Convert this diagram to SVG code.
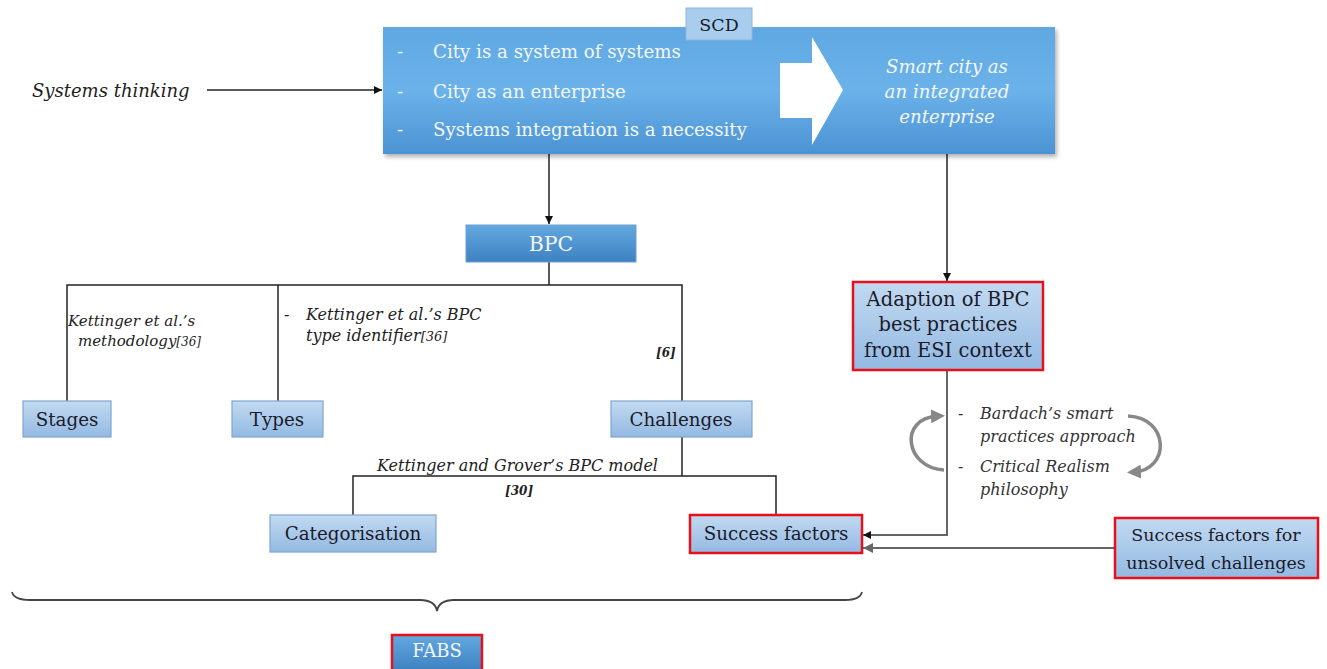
<svg xmlns="http://www.w3.org/2000/svg" width="1327" height="669" viewBox="0 0 1327 669">
<defs>
<linearGradient id="gBig" x1="0" y1="0" x2="0" y2="1"><stop offset="0" stop-color="#5fa8e2"/><stop offset="0.5" stop-color="#6bb2ea"/><stop offset="1" stop-color="#4b93d3"/></linearGradient>
<linearGradient id="gDark" x1="0" y1="0" x2="0" y2="1"><stop offset="0" stop-color="#64a8e0"/><stop offset="1" stop-color="#3e81c2"/></linearGradient>
<linearGradient id="gLight" x1="0" y1="0" x2="0" y2="1"><stop offset="0" stop-color="#c2daf1"/><stop offset="1" stop-color="#93b9e2"/></linearGradient>
<filter id="sh" x="-5%" y="-10%" width="115%" height="130%"><feDropShadow dx="2" dy="3" stdDeviation="2" flood-color="#000" flood-opacity="0.3"/></filter>
<marker id="ah" viewBox="0 0 10 10" refX="10" refY="5" markerWidth="8" markerHeight="8" orient="auto" markerUnits="userSpaceOnUse"><path d="M0,0 L10,5 L0,10 z" fill="#111"/></marker>
<marker id="ahg" viewBox="0 0 10 10" refX="10" refY="5" markerWidth="10" markerHeight="10" orient="auto" markerUnits="userSpaceOnUse"><path d="M0,0 L10,5 L0,10 z" fill="#666"/></marker>
<marker id="ahc" viewBox="0 0 10 10" refX="5" refY="5" markerWidth="14" markerHeight="14" orient="auto" markerUnits="userSpaceOnUse"><path d="M0,0 L10,5 L0,10 z" fill="#888"/></marker>
</defs>
<style>
text{font-family:"DejaVu Serif","Liberation Serif",serif}
.big{fill:url(#gBig);filter:url(#sh)}
.dark{fill:url(#gDark);stroke:#6f9fcf;stroke-width:1}
.light{fill:url(#gLight);stroke:#7fa6cf;stroke-width:1.2}
.red{stroke:#e8101a;stroke-width:2.5}
.t{font-size:18.3px;fill:#1b1b2b}
.tw{font-size:18.2px;fill:#f4f7fb}
.it{font-style:italic;font-size:16px;fill:#222}
.itw{font-style:italic;font-size:18.2px;fill:#f4f7fb}
.ln{fill:none;stroke:#222;stroke-width:1.5}
.lg{fill:none;stroke:#666;stroke-width:2}
.cv{fill:none;stroke:#888;stroke-width:3.5}
</style>

<g id="connectors">
<line class="ln" x1="207" y1="90" x2="382" y2="90" marker-end="url(#ah)"/>
<line class="ln" x1="549" y1="154" x2="549" y2="224" marker-end="url(#ah)"/>
<line class="ln" x1="947" y1="154" x2="947" y2="281" marker-end="url(#ah)"/>
<line class="ln" x1="549" y1="262" x2="549" y2="285"/>
<polyline class="ln" points="67,401 67,285 682,285 682,401"/>
<line class="ln" x1="278" y1="285" x2="278" y2="401"/>
<line class="ln" x1="682" y1="437" x2="682" y2="476"/>
<polyline class="ln" points="353,515 353,476 776,476 776,515"/>
<polyline class="lg" points="947,370 947,535 863,535" marker-end="url(#ah)"/>
<line class="lg" x1="1115" y1="548" x2="863" y2="548" marker-end="url(#ahg)"/>
<path class="cv" d="M944,470 C905,468 898,418 938,416" marker-end="url(#ahc)"/>
<path class="cv" d="M1128,416 C1170,418 1170,470 1134,472" marker-end="url(#ahc)"/>
<path fill="none" stroke="#444" stroke-width="1.8" d="M12,592 Q14,600 30,600 L420,600 Q435,600 437,611 Q439,600 454,600 L845,600 Q860,600 862,592"/>
</g>

<g id="systems-thinking">
<text class="it" x="32" y="97" style="font-size:18px">Systems thinking</text>
</g>

<g id="scd">
<rect class="big" x="383" y="27" width="672" height="127"/>
<polygon points="780,63 812,63 812,37 843,90 812,145 812,118 780,118" fill="#ffffff"/>
<text class="tw" x="397" y="58">-</text>
<text class="tw" x="433" y="58">City is a system of systems</text>
<text class="tw" x="397" y="98">-</text>
<text class="tw" x="433" y="98">City as an enterprise</text>
<text class="tw" x="397" y="136">-</text>
<text class="tw" x="433" y="136">Systems integration is a necessity</text>
<text class="itw" x="947" y="73" text-anchor="middle">Smart city as</text>
<text class="itw" x="947" y="98" text-anchor="middle">an integrated</text>
<text class="itw" x="947" y="123" text-anchor="middle">enterprise</text>
<rect x="686" y="8" width="66" height="32" fill="#a9cdec" stroke="#8db6dc" stroke-width="1"/>
<text class="t" x="719" y="31" text-anchor="middle" style="font-size:17.5px">SCD</text>
</g>

<g id="bpc">
<rect class="dark" x="466" y="225" width="170" height="37"/>
<text class="tw" x="551" y="251" text-anchor="middle" style="font-size:20.5px">BPC</text>
</g>

<g id="stages">
<rect class="light" x="23" y="401" width="88" height="36"/>
<text class="t" x="67" y="426" text-anchor="middle">Stages</text>
</g>
<g id="types">
<rect class="light" x="232" y="401" width="91" height="36"/>
<text class="t" x="277" y="426" text-anchor="middle">Types</text>
</g>
<g id="challenges">
<rect class="light" x="611" y="401" width="141" height="36"/>
<text class="t" x="681" y="426" text-anchor="middle">Challenges</text>
</g>

<g id="labels">
<text class="it" x="68" y="326" style="font-size:15px">Kettinger et al.’s</text>
<text class="it" x="78" y="346" style="font-size:15px">methodology<tspan style="font-size:12px">[36]</tspan></text>
<text class="it" x="284" y="320">-</text>
<text class="it" x="306" y="320">Kettinger et al.’s BPC</text>
<text class="it" x="306" y="341">type identifier<tspan style="font-size:13px">[36]</tspan></text>
<text class="it" x="656" y="357" style="font-size:12px;font-weight:bold">[6]</text>
<text class="it" x="377" y="471">Kettinger and Grover’s BPC model</text>
<text class="it" x="505" y="495" style="font-size:12px;font-weight:bold">[30]</text>
<text class="it" x="958" y="419" style="fill:#333">-</text>
<text class="it" x="980" y="419" style="fill:#333">Bardach’s smart</text>
<text class="it" x="980" y="442" style="fill:#333">practices approach</text>
<text class="it" x="958" y="472" style="fill:#333">-</text>
<text class="it" x="980" y="472" style="fill:#333">Critical Realism</text>
<text class="it" x="980" y="495" style="fill:#333">philosophy</text>
</g>

<g id="categorisation">
<rect class="light" x="270" y="515" width="166" height="37"/>
<text class="t" x="353" y="540" text-anchor="middle">Categorisation</text>
</g>
<g id="success-factors">
<rect class="light red" x="690" y="515" width="172" height="38"/>
<text class="t" x="776" y="540" text-anchor="middle">Success factors</text>
</g>
<g id="adaption">
<rect class="light red" x="853" y="282" width="190" height="88"/>
<text class="t" x="948" y="306" text-anchor="middle" style="font-size:19.5px">Adaption of BPC</text>
<text class="t" x="948" y="331" text-anchor="middle" style="font-size:19.5px">best practices</text>
<text class="t" x="948" y="357" text-anchor="middle" style="font-size:19.5px">from ESI context</text>
</g>
<g id="unsolved">
<rect class="light red" x="1115" y="518" width="203" height="60"/>
<text class="t" x="1216" y="541" text-anchor="middle" style="font-size:17.5px">Success factors for</text>
<text class="t" x="1216" y="569" text-anchor="middle" style="font-size:17.5px">unsolved challenges</text>
</g>
<g id="fabs">
<rect class="dark red" x="392" y="635" width="90" height="36"/>
<text class="tw" x="437" y="657" text-anchor="middle" style="font-size:18px">FABS</text>
</g>
</svg>
